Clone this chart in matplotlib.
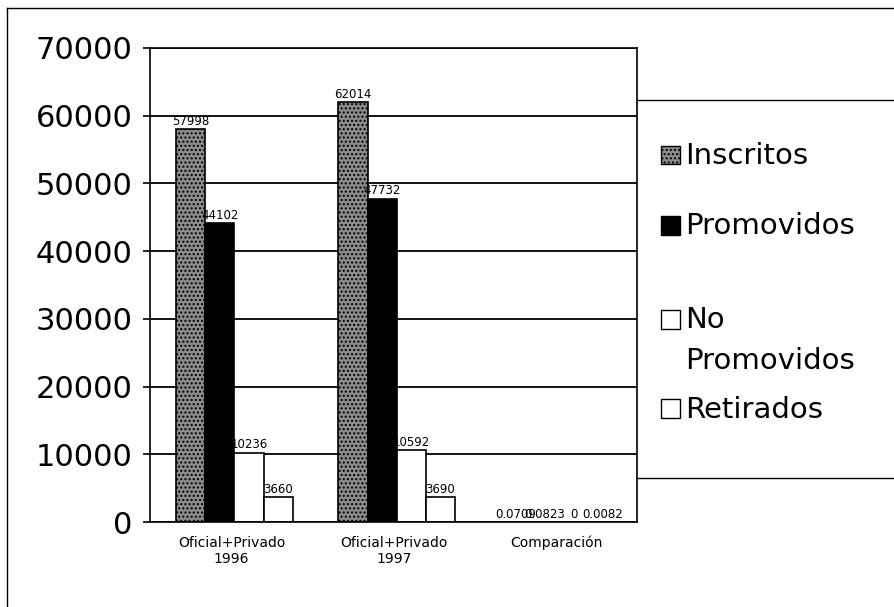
import numpy as np
import matplotlib.pyplot as plt
from matplotlib.lines import Line2D
from matplotlib.patches import Rectangle

# Data
categories = ['Oficial+Privado\n1996', 'Oficial+Privado\n1997', 'Comparación']
inscritos = [57998, 62014, 0.0709]
promovidos = [44102, 47732, 0.0823]
no_promovidos = [10236, 10592, 0]
retirados = [3660, 3690, 0.0082]

names = ['Inscritos', 'Promovidos', 'No', 'Retirados']
series = [inscritos, promovidos, no_promovidos, retirados]
styles = [dict(facecolor='#8c8c8c', hatch='....', edgecolor='black'),
          dict(facecolor='black', edgecolor='black'),
          dict(facecolor='white', edgecolor='black'),
          dict(facecolor='white', edgecolor='black')]

fig = plt.figure(figsize=(8.95, 6.07), dpi=100)
ax = fig.add_axes([0.168, 0.14, 0.544, 0.781])

x = np.arange(len(categories))
w = 0.18
for i, (vals, st) in enumerate(zip(series, styles)):
    bars = ax.bar(x + (i - 1.4) * w, vals, w, linewidth=1.2, **st)
    ax.bar_label(bars, labels=[f'{v:g}' for v in vals], fontsize=8.5, padding=1)

ax.set_ylim(0, 70000)
ax.set_xlim(-0.5, 2.5)
ax.set_yticks(np.arange(0, 70001, 10000))
ax.tick_params(axis='y', labelsize=22, length=5, width=1.2, pad=8)
ax.tick_params(axis='x', labelsize=10, length=0, pad=10)
ax.set_xticks(x)
ax.set_xticklabels(categories)
ax.yaxis.grid(True, color='black', linewidth=1.3)
ax.set_axisbelow(True)
for s in ax.spines.values():
    s.set_linewidth(1.2)

# Legend drawn by hand in figure coords
fig.add_artist(Line2D([0.712, 1.0], [0.835, 0.835], color='black', lw=1.0))
fig.add_artist(Line2D([0.712, 1.0], [0.213, 0.213], color='black', lw=1.0))
ys = [0.743, 0.627, 0.472, 0.325]
for name, st, y in zip(names, styles, ys):
    fig.add_artist(Rectangle((0.738, y - 0.014), 0.022, 0.031,
                             transform=fig.transFigure, linewidth=1.0, **st))
    fig.text(0.765, y, name, fontsize=21, va='center', ha='left')
fig.text(0.765, 0.405, 'Promovidos', fontsize=21, va='center', ha='left')

# Outer border of the scanned page
fig.add_artist(Line2D([0.008, 0.008], [0.0, 0.987], color='black', lw=1.0))
fig.add_artist(Line2D([0.008, 1.0], [0.987, 0.987], color='black', lw=1.0))

fig.savefig('out.png', dpi=100)
